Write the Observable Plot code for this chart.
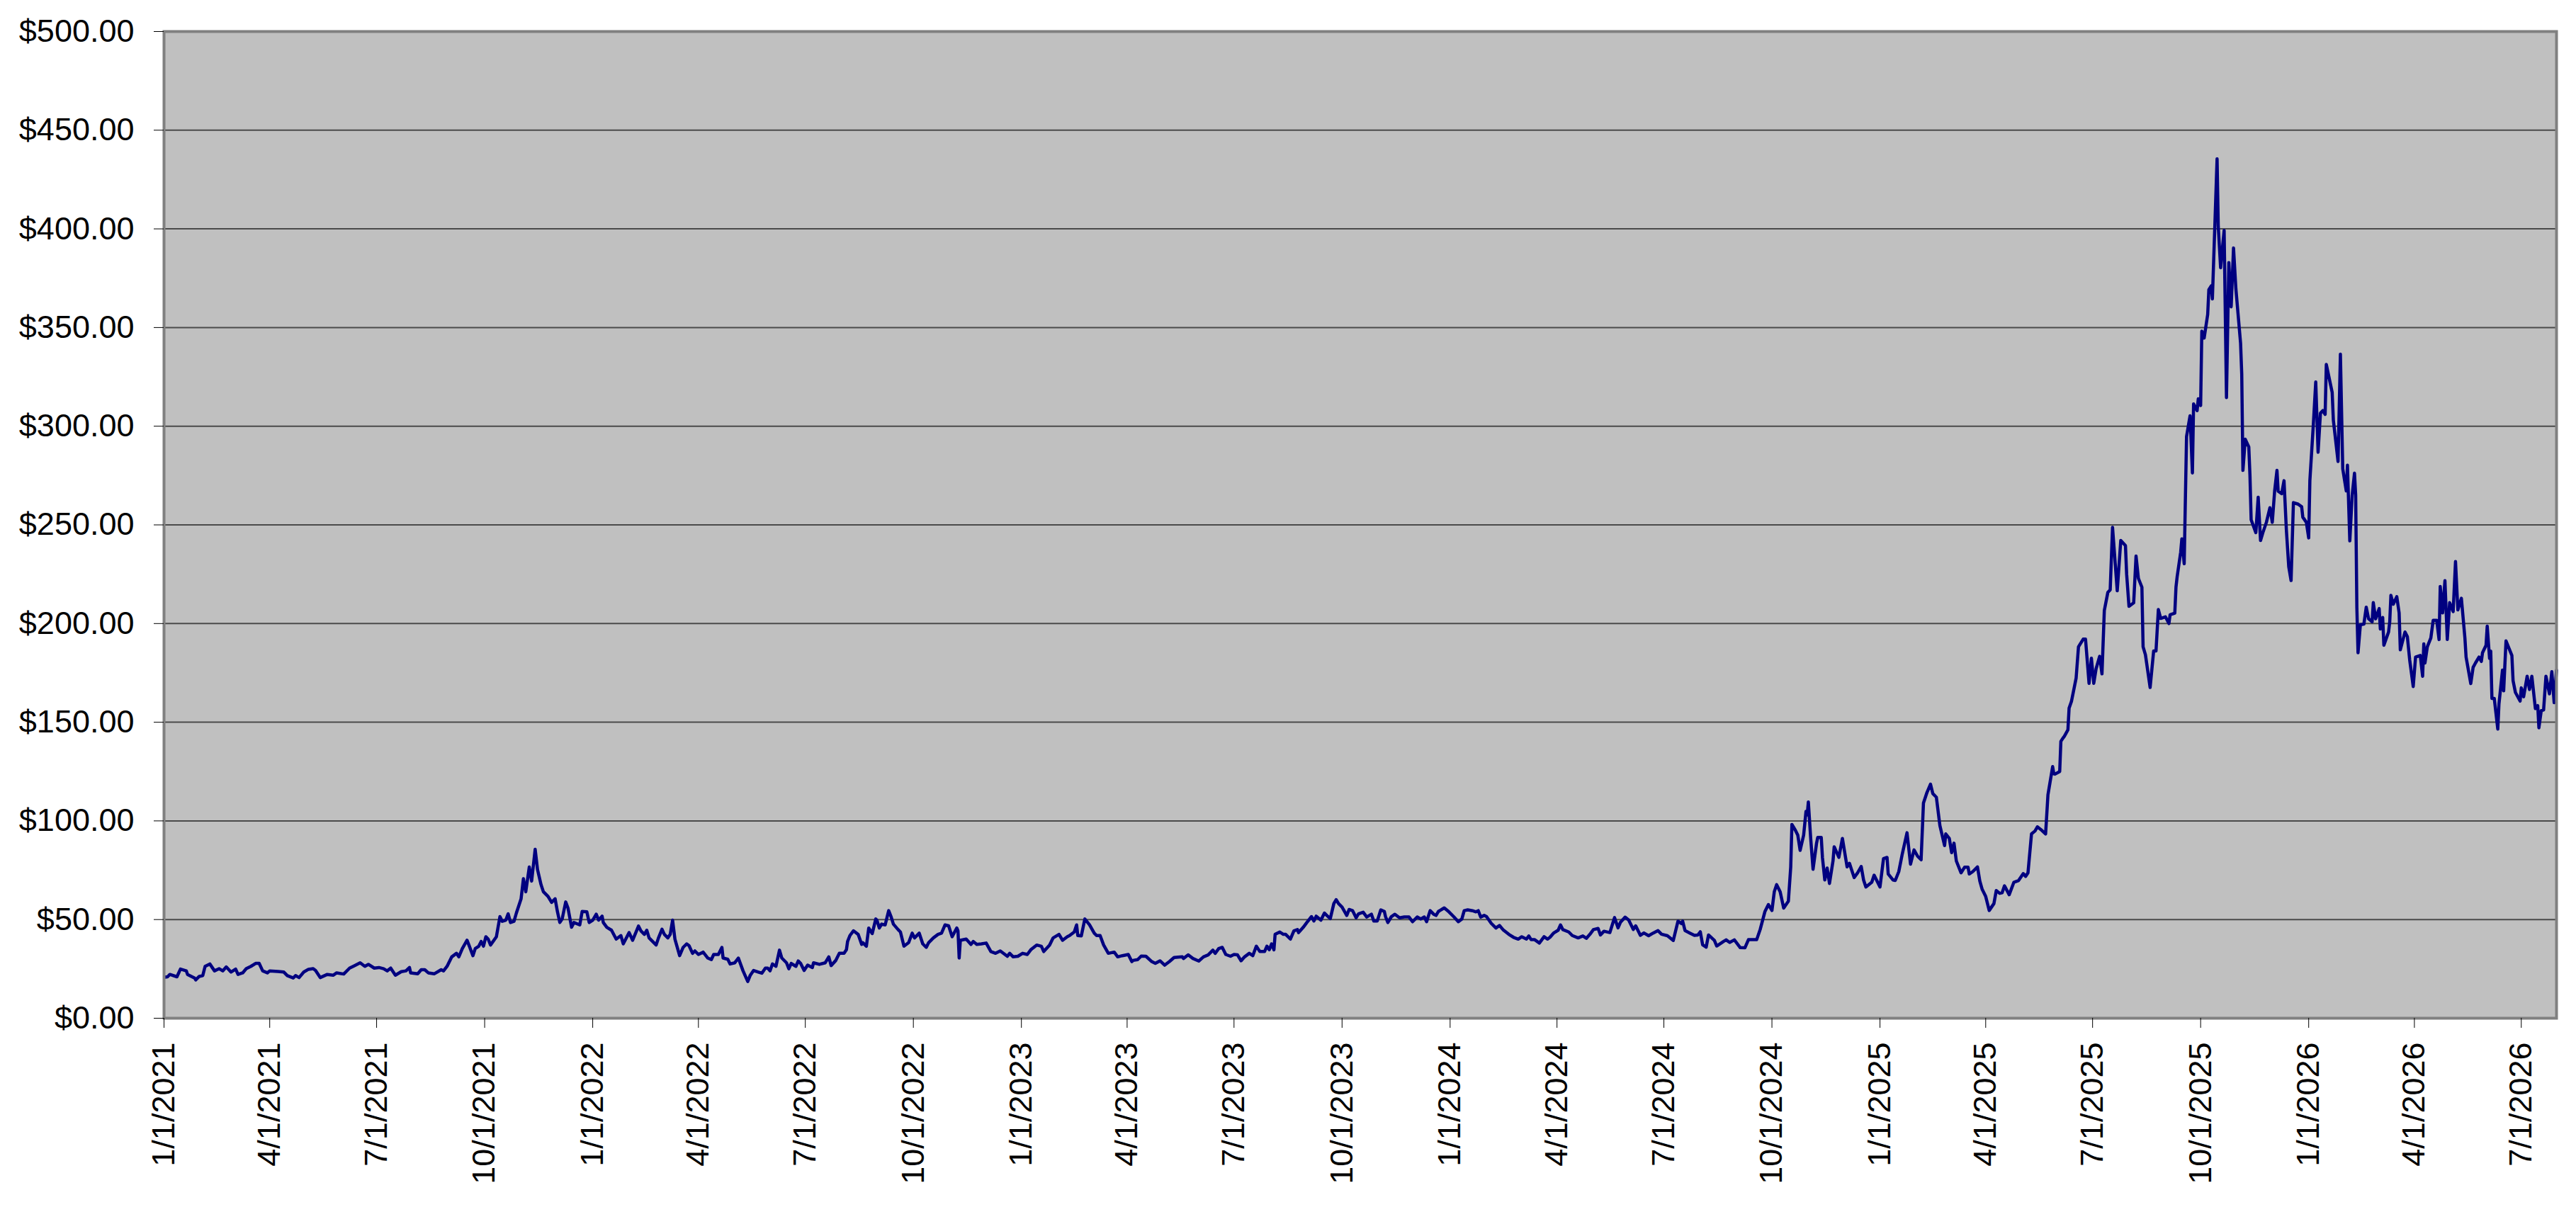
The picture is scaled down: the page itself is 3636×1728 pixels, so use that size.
<!DOCTYPE html>
<html>
<head>
<meta charset="utf-8">
<script src="https://cdn.jsdelivr.net/npm/d3@7"></script>
<script src="https://cdn.jsdelivr.net/npm/@observablehq/plot@0.6"></script>
<style>
  html, body { margin: 0; padding: 0; background: #ffffff; }
</style>
</head>
<body>
<script>
// Series start date; each pair below is [days since 1/1/2021, price in $]
const startDate = "2021-01-01";
const endDate = "2026-07-31";

const prices2021 = [[1,20.8],[3,21.0],[5,22.2],[11,21.0],[14,24.9],[19,24.0],[20,22.2],[26,20.4],[27,19.4],[30,21.2],[33,21.6],[35,26.3],[39,27.5],[43,24.0],[47,25.1],[50,24.0],[53,26.0],[57,23.4],[61,24.9],[63,22.2],[67,23.0],[70,25.1],[74,26.3],[78,27.8],[81,27.8],[84,24.0],[88,23.0],[90,24.0],[97,23.7],[102,23.4],[105,21.6],[110,20.4],[112,21.6],[115,20.6],[119,23.4],[123,24.8],[127,25.1],[129,24.2],[133,20.6],[139,22.2],[144,21.8],[147,23.0],[153,22.4],[158,25.4],[162,26.6],[167,28.1],[171,26.3],[174,27.3],[179,25.4],[183,25.7],[187,25.1],[190,24.0],[193,25.4],[197,21.8],[202,23.6],[206,24.0],[209,25.7],[210,23.0],[216,22.5],[219,24.6],[222,24.6],[225,23.0],[230,22.5],[236,24.6],[238,24.0],[241,26.3],[245,31.1],[249,32.9],[251,31.1],[254,35.3],[258,39.5],[260,36.5],[263,31.7],[265,35.3],[268,36.5],[270,38.9],[272,36.5],[274,41.3],[276,40.1],[278,37.1],[283,41.3],[286,51.5],[288,49.1],[291,49.7],[293,52.9],[295,48.5],[298,49.1],[300,53.3],[302,56.9],[304,60.5],[306,70.7],[308,64.1],[311,76.6],[313,69.5],[316,85.6],[318,75.4],[321,67.7],[323,64.1],[327,61.7],[330,58.7],[333,60.5],[335,53.9],[337,48.5],[339,50.3],[342,58.9],[344,55.7],[347,46.1],[349,48.5],[354,47.3],[356,54.1],[360,53.9],[362,48.5]];

const prices2022 = [[365,49.7],[368,52.7],[370,49.7],[373,51.7],[374,48.5],[377,46.1],[381,44.6],[385,40.1],[389,41.9],[391,37.7],[396,43.4],[399,39.5],[404,46.7],[406,44.3],[409,42.5],[411,44.6],[413,40.7],[416,38.9],[419,37.1],[421,40.7],[424,45.1],[426,42.5],[429,40.7],[431,42.5],[433,49.7],[435,40.1],[439,31.7],[442,35.9],[445,37.7],[447,36.8],[450,32.9],[452,34.1],[455,32.3],[459,33.5],[463,30.5],[466,29.7],[468,32.3],[472,32.3],[475,35.9],[476,30.5],[480,29.9],[482,27.5],[486,28.1],[489,30.5],[493,24.0],[497,18.6],[499,21.6],[502,24.2],[506,23.4],[509,22.8],[512,25.4],[514,25.4],[516,24.0],[518,27.5],[521,26.3],[524,34.5],[526,30.5],[530,28.1],[532,25.1],[534,27.8],[538,26.3],[540,29.0],[542,27.8],[545,24.2],[548,26.9],[552,25.7],[553,28.1],[558,27.3],[563,28.1],[566,31.1],[568,26.7],[572,29.3],[575,32.9],[579,32.9],[581,34.7],[582,38.9],[584,41.9],[587,44.3],[591,42.5],[594,37.4],[595,38.3],[598,36.5],[600,45.7],[603,42.9],[606,50.3],[607,49.7],[609,45.7],[611,47.7],[614,47.3],[617,54.5],[619,51.5],[621,47.7],[625,44.9],[627,43.7],[630,36.5],[634,38.3],[637,43.1],[639,40.7],[643,43.1],[646,37.7],[649,35.9],[651,38.3],[655,40.7],[659,42.5],[662,43.1],[665,47.3],[668,46.9],[671,41.3],[675,45.7],[676,44.3],[677,30.5],[678,39.5],[683,40.1],[687,37.4],[689,38.9],[692,37.4],[696,37.7],[700,38.1],[704,33.8],[708,32.9],[712,34.1],[718,31.4],[720,32.9],[723,31.1],[727,31.4]];

const prices2023 = [[731,32.9],[735,32.3],[738,34.7],[743,37.1],[747,36.5],[749,33.8],[754,37.1],[757,40.7],[762,42.5],[765,39.5],[769,41.3],[771,41.9],[775,43.7],[777,47.3],[778,41.9],[781,41.7],[784,50.3],[788,47.3],[792,43.1],[794,41.9],[797,41.9],[800,37.1],[804,32.9],[809,33.5],[812,31.1],[816,31.7],[821,32.3],[824,28.7],[825,29.3],[829,29.7],[832,31.5],[836,31.4],[841,28.7],[844,27.8],[848,29.1],[852,26.9],[856,28.7],[860,30.8],[867,31.1],[868,30.3],[872,32.1],[876,30.3],[881,29.0],[885,31.1],[889,32.1],[893,34.5],[895,32.9],[898,35.3],[901,35.9],[904,32.3],[908,31.4],[911,32.3],[914,32.1],[917,29.1],[920,31.1],[924,32.9],[927,31.7],[930,36.5],[933,33.8],[937,33.8],[939,36.5],[941,34.7],[943,37.7],[945,34.7],[946,42.5],[950,43.7],[953,42.5],[955,42.5],[959,40.1],[962,44.3],[965,44.9],[966,43.4],[970,46.1],[973,48.5],[977,51.5],[979,49.3],[981,51.7],[985,49.7],[988,53.3],[990,52.1],[993,50.5],[996,58.1],[998,60.1],[1000,58.1],[1003,56.3],[1007,52.1],[1009,55.1],[1012,54.5],[1015,50.9],[1017,52.9],[1021,53.7],[1024,51.3],[1028,52.7],[1030,49.3],[1033,49.3],[1036,54.9],[1039,54.1],[1040,51.5],[1042,48.5],[1045,51.5],[1048,52.7],[1052,50.9],[1056,51.3],[1060,51.3],[1063,48.9],[1067,51.3],[1070,50.3],[1073,51.3],[1075,48.9],[1078,54.5],[1081,52.7],[1083,52.1],[1085,54.1],[1090,55.9],[1094,53.9]];

const prices2024 = [[1098,51.5],[1102,48.9],[1105,50.3],[1107,54.5],[1110,54.9],[1114,54.5],[1117,53.9],[1119,54.5],[1121,51.3],[1124,52.1],[1126,51.5],[1130,48.1],[1134,45.7],[1137,47.0],[1140,44.9],[1145,42.5],[1149,41.0],[1153,40.1],[1156,41.3],[1160,40.1],[1162,41.7],[1164,39.8],[1167,39.8],[1171,38.1],[1175,41.3],[1178,40.1],[1180,41.0],[1183,43.1],[1187,44.6],[1189,47.3],[1191,44.9],[1196,43.7],[1199,41.9],[1204,40.7],[1208,41.7],[1211,40.5],[1214,42.5],[1217,44.9],[1221,45.5],[1223,42.2],[1226,44.1],[1231,43.4],[1235,51.0],[1238,45.8],[1240,48.6],[1244,51.2],[1247,49.8],[1251,45.0],[1253,46.8],[1257,42.0],[1260,43.2],[1264,41.8],[1268,43.2],[1272,44.4],[1275,42.6],[1280,41.8],[1285,39.4],[1289,49.2],[1292,48.0],[1293,49.2],[1295,44.4],[1299,43.2],[1303,42.0],[1306,42.2],[1308,43.8],[1310,37.2],[1313,36.0],[1315,42.2],[1320,39.4],[1322,36.6],[1328,39.0],[1330,39.7],[1333,38.4],[1337,39.7],[1342,35.8],[1346,35.7],[1349,39.8],[1356,39.8],[1359,45.0],[1363,54.0],[1366,57.6],[1369,54.6],[1371,64.1],[1373,67.7],[1376,64.1],[1379,55.8],[1383,59.3],[1385,76.7],[1386,98.2],[1389,95.2],[1391,92.8],[1393,85.1],[1396,92.8],[1398,104.8],[1399,103.0],[1400,109.6],[1402,91.1],[1404,75.5],[1407,88.7],[1408,91.6],[1411,91.6],[1412,81.5],[1414,70.1],[1416,76.1],[1418,68.3],[1421,79.7],[1422,86.9],[1426,81.5],[1429,91.1],[1433,76.7],[1435,78.5],[1439,71.3],[1442,73.7],[1445,76.9],[1447,70.1],[1449,66.5],[1454,68.9],[1456,72.5]];

const prices2025 = [[1461,66.5],[1464,80.9],[1467,81.5],[1468,73.1],[1472,70.1],[1474,69.8],[1477,74.3],[1480,83.3],[1484,94.0],[1487,78.1],[1490,85.3],[1493,82.1],[1496,80.3],[1498,109.0],[1501,114.4],[1504,118.6],[1506,113.8],[1509,112.0],[1512,97.6],[1516,87.5],[1517,93.4],[1520,91.1],[1522,83.9],[1524,88.7],[1526,79.7],[1530,73.7],[1533,76.5],[1536,76.5],[1537,73.1],[1540,74.3],[1544,76.7],[1546,69.5],[1548,65.3],[1551,61.7],[1554,54.6],[1558,58.1],[1560,64.7],[1563,63.3],[1565,63.6],[1567,67.1],[1571,62.6],[1575,68.9],[1579,69.8],[1583,73.3],[1585,71.9],[1587,73.7],[1590,93.4],[1593,94.9],[1595,97.0],[1598,95.6],[1602,93.4],[1604,113.2],[1608,127.5],[1609,123.9],[1610,123.7],[1614,125.0],[1615,140.3],[1617,142.1],[1618,142.9],[1621,146.1],[1622,157.1],[1624,160.5],[1628,172.4],[1630,188.2],[1634,192.1],[1636,192.1],[1639,169.7],[1641,182.4],[1643,169.7],[1645,177.1],[1648,183.4],[1650,174.5],[1652,206.6],[1655,215.8],[1657,217.1],[1659,248.7],[1663,216.6],[1666,242.1],[1670,239.5],[1671,225.0],[1673,208.7],[1677,210.5],[1679,234.2],[1681,222.9],[1684,218.4],[1685,188.2],[1687,184.2],[1691,167.6],[1694,186.1],[1696,186.1],[1698,207.1],[1700,202.6],[1704,203.4],[1707,200.0],[1708,204.5],[1712,205.3],[1713,218.4],[1714,223.7],[1717,236.1],[1718,242.9],[1720,230.3],[1722,294.7],[1725,305.3],[1727,276.3],[1728,311.3],[1731,307.9],[1732,313.9],[1734,310.5],[1735,348.2],[1737,344.7],[1740,356.6],[1741,369.2],[1743,371.1],[1744,364.5],[1746,400.0],[1748,435.5],[1749,401.3],[1751,380.3],[1754,399.2],[1756,314.5],[1758,382.9],[1760,360.5],[1762,390.3],[1764,369.7],[1768,342.1],[1769,326.3],[1770,277.6],[1772,293.4],[1775,289.5],[1776,275.0],[1777,252.6],[1781,246.1],[1783,264.0],[1785,242.1],[1787,246.1],[1790,251.3],[1793,258.7],[1795,251.3],[1797,267.1],[1799,277.6],[1800,267.1],[1803,265.8],[1805,272.4],[1807,247.4],[1809,228.9],[1811,221.8],[1813,261.3],[1817,260.5],[1820,259.2],[1821,253.9],[1824,251.3]];

const prices2026 = [[1826,243.4],[1827,272.4],[1830,301.3],[1832,322.4],[1834,286.8],[1836,306.6],[1838,307.9],[1840,306.0],[1841,331.3],[1846,317.1],[1847,303.0],[1851,282.1],[1853,336.5],[1855,278.4],[1858,267.2],[1859,280.2],[1861,241.9],[1863,265.0],[1865,276.2],[1866,265.0],[1867,208.3],[1868,185.2],[1870,199.4],[1873,199.7],[1875,208.3],[1877,202.4],[1880,200.9],[1881,210.6],[1883,202.4],[1886,207.6],[1887,197.2],[1889,203.1],[1890,189.0],[1894,195.7],[1895,200.9],[1896,214.3],[1898,209.8],[1901,213.6],[1903,205.4],[1904,186.7],[1908,195.7],[1910,193.4],[1912,181.5],[1915,168.1],[1917,183.0],[1921,183.8],[1923,173.3],[1924,189.7],[1925,180.0],[1927,188.2],[1930,192.7],[1932,201.6],[1935,201.6],[1937,191.9],[1938,218.8],[1940,205.4],[1942,221.7],[1944,191.9],[1946,210.6],[1949,206.1],[1951,231.4],[1953,206.9],[1956,212.8],[1959,192.7],[1960,183.0],[1964,169.6],[1966,177.8],[1968,180.0],[1971,183.0],[1973,180.8],[1974,185.2],[1977,189.0],[1978,198.7],[1980,182.3],[1981,186.0],[1982,162.1],[1984,162.1],[1987,146.5],[1988,159.2],[1991,176.4],[1992,165.9],[1994,191.2],[1999,183.8],[2000,171.1],[2002,165.1],[2006,160.7],[2007,167.4],[2009,162.9],[2012,173.3],[2014,166.6],[2016,173.3],[2019,156.9],[2021,158.4],[2022,147.2],[2024,155.9],[2026,156.2],[2028,173.3],[2031,164.4],[2033,175.6],[2035,159.9],[2037,176.3]];

const yTickValues = [0, 50, 100, 150, 200, 250, 300, 350, 400, 450, 500];
const xTickLabels = ["1/1/2021","4/1/2021","7/1/2021","10/1/2021","1/1/2022","4/1/2022","7/1/2022","10/1/2022","1/1/2023","4/1/2023","7/1/2023","10/1/2023","1/1/2024","4/1/2024","7/1/2024","10/1/2024","1/1/2025","4/1/2025","7/1/2025","10/1/2025","1/1/2026","4/1/2026","7/1/2026"];

const parseISO = d3.utcParse("%Y-%m-%d");
const parseMDY = d3.utcParse("%m/%d/%Y");
const start = parseISO(startDate);
const end = parseISO(endDate);

const series = [...prices2021, ...prices2022, ...prices2023, ...prices2024, ...prices2025, ...prices2026]
  .map(([day, price]) => ({date: d3.utcDay.offset(start, day), price}));
const xTicks = xTickLabels.map(parseMDY);

const font = "'Liberation Sans', Arial, Helvetica, sans-serif";

const chart = Plot.plot({
  width: 3636,
  height: 1728,
  marginLeft: 231,
  marginRight: 28,
  marginTop: 44,
  marginBottom: 291,
  style: {fontFamily: font, fontSize: "45px", color: "#000", background: "#fff", overflow: "visible"},
  x: {type: "utc", domain: [start, end]},
  y: {domain: [0, 500]},
  marks: [
    Plot.frame({fill: "#C0C0C0", stroke: null}),
    Plot.ruleY(yTickValues.filter(v => v > 0 && v < 500), {stroke: "#4a4a4a", strokeWidth: 2}),
    Plot.lineY(series, {x: "date", y: "price", stroke: "#000080", strokeWidth: 4.5, strokeLinejoin: "round", curve: "linear"}),
    Plot.frame({stroke: "#808080", strokeWidth: 4}),
    Plot.axisY({
      ticks: yTickValues,
      tickFormat: d => "$" + d.toFixed(2),
      tickSize: 14,
      tickPadding: 28,
      fontSize: 45,
      label: null
    }),
    Plot.axisX({
      ticks: xTicks,
      tickFormat: d3.utcFormat("%-m/%-d/%Y"),
      tickRotate: -90,
      tickSize: 14,
      tickPadding: 20,
      fontSize: 45,
      label: null
    })
  ]
});

document.body.appendChild(chart);
</script>
</body>
</html>
